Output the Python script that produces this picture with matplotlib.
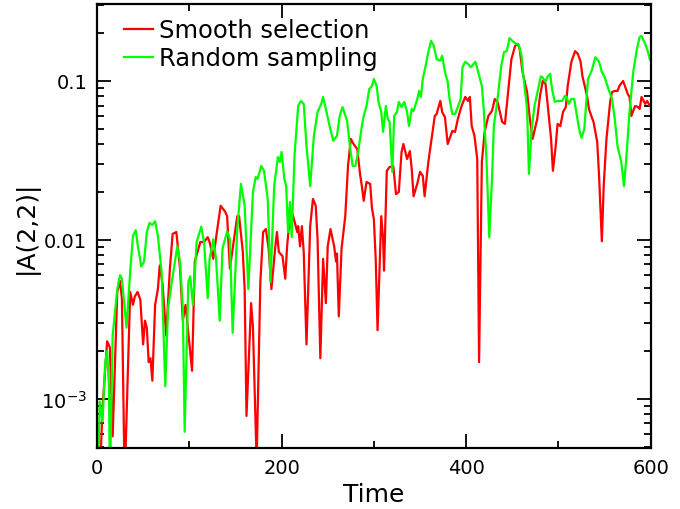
import numpy as np
import matplotlib
matplotlib.use("Agg")
import matplotlib.pyplot as plt
from matplotlib.ticker import FixedLocator, FixedFormatter, LogLocator, NullFormatter

# data (time, |A(2,2)|)
smooth_t = [3, 6, 11, 14, 17, 22, 25, 27, 30, 36, 39, 41, 44, 47, 50, 52, 54, 56, 58, 60,
            63, 66, 68, 71, 75, 79, 82, 86, 90, 93, 96, 103, 106, 112, 116, 120, 122, 126, 130, 134,
            139, 141, 144, 152, 154, 158, 160, 162, 167, 169, 173, 177, 180, 183, 186, 189, 193, 195, 197, 201,
            204, 206, 209, 212, 217, 218, 220, 222, 224, 227, 231, 234, 237, 239, 242, 245, 248, 250, 253, 257,
            259, 260, 262, 265, 269, 272, 275, 278, 282, 285, 287, 289, 292, 296, 298, 300, 302, 304, 308, 310,
            311, 314, 317, 321, 324, 327, 330, 332, 336, 339, 341, 343, 347, 350, 353, 355, 359, 363, 366, 368,
            372, 374, 377, 380, 385, 388, 391, 395, 399, 402, 404, 406, 409, 412, 414, 417, 420, 424, 428, 431,
            434, 439, 442, 445, 449, 453, 456, 458, 461, 466, 469, 472, 477, 480, 483, 486, 488, 492, 494, 497,
            499, 502, 505, 508, 510, 514, 518, 521, 524, 526, 531, 533, 536, 538, 542, 544, 547, 549, 552, 556,
            558, 561, 564, 566, 570, 572, 575, 577, 579, 583, 586, 588, 590, 594, 596, 599]
smooth_a = [0.0003, 0.00087, 0.0023, 0.0021, 0.00058, 0.0047, 0.0055, 0.0043, 0.0003, 0.0047, 0.0039, 0.0044, 0.0047, 0.0042, 0.0022, 0.0031, 0.0028, 0.0017, 0.0018, 0.0013,
            0.0039, 0.0049, 0.0069, 0.0053, 0.0025, 0.0066, 0.0109, 0.0112, 0.0066, 0.0031, 0.0039, 0.0015, 0.0073, 0.0097, 0.0097, 0.0104, 0.0097, 0.0076, 0.0113, 0.0164,
            0.0150, 0.0141, 0.0066, 0.0141, 0.0141, 0.0084, 0.0049, 0.00078, 0.0040, 0.0028, 0.0004, 0.0054, 0.0112, 0.0117, 0.0088, 0.0049, 0.0088, 0.0112, 0.0084, 0.0079,
            0.0057, 0.0091, 0.0141, 0.0145, 0.0112, 0.0122, 0.0091, 0.0122, 0.0084, 0.0022, 0.0122, 0.0181, 0.0164, 0.0101, 0.0018, 0.0076, 0.0040, 0.0091, 0.0117, 0.0091,
            0.0073, 0.0082, 0.0033, 0.0088, 0.0141, 0.0292, 0.0432, 0.0401, 0.0373, 0.0260, 0.0218, 0.0176, 0.0231, 0.0225, 0.0157, 0.0135, 0.0076, 0.0027, 0.0141, 0.0101,
            0.0064, 0.0272, 0.0287, 0.0292, 0.0194, 0.0200, 0.0357, 0.0401, 0.0323, 0.0362, 0.0280, 0.0188, 0.0225, 0.0268, 0.0253, 0.0188, 0.0309, 0.0451, 0.0602, 0.0620,
            0.0749, 0.0638, 0.0593, 0.0401, 0.0485, 0.0478, 0.0577, 0.0696, 0.0793, 0.0749, 0.0793, 0.0521, 0.0451, 0.0323, 0.0017, 0.0309, 0.0478, 0.0602, 0.0648, 0.0770,
            0.0738, 0.0552, 0.0537, 0.0805, 0.137, 0.166, 0.171, 0.159, 0.114, 0.0852, 0.0577, 0.0432, 0.0577, 0.0805, 0.100, 0.0957, 0.0738, 0.0432, 0.0272, 0.0390,
            0.0537, 0.052, 0.0638, 0.0686, 0.0930, 0.132, 0.154, 0.148, 0.132, 0.107, 0.0805, 0.0667, 0.0593, 0.0552, 0.0413, 0.0253, 0.0098, 0.0218, 0.0432, 0.0738,
            0.0852, 0.0865, 0.0865, 0.0930, 0.100, 0.0930, 0.0829, 0.0793, 0.0602, 0.0696, 0.0686, 0.0667, 0.0793, 0.0717, 0.0749, 0.0696]

random_t = [1, 3, 6, 9, 11, 13, 14, 17, 22, 25, 27, 32, 36, 39, 42, 44, 48, 51, 54, 57,
            60, 63, 66, 70, 74, 77, 81, 87, 90, 93, 95, 99, 101, 104, 108, 113, 116, 120, 122, 126,
            129, 133, 136, 141, 144, 147, 152, 156, 160, 164, 169, 172, 174, 178, 181, 185, 188, 192, 196, 198,
            200, 203, 205, 207, 209, 211, 214, 218, 221, 224, 227, 231, 235, 239, 243, 245, 248, 252, 256, 260,
            263, 266, 271, 274, 277, 280, 283, 287, 289, 292, 295, 298, 300, 303, 305, 308, 310, 313, 315, 317,
            320, 322, 325, 327, 330, 333, 336, 338, 341, 343, 347, 349, 351, 353, 356, 359, 362, 365, 368, 372,
            374, 377, 380, 382, 385, 388, 391, 394, 396, 399, 402, 405, 408, 410, 413, 417, 419, 422, 425, 428,
            430, 434, 438, 441, 444, 447, 450, 454, 457, 460, 462, 466, 468, 471, 474, 478, 481, 483, 486, 488,
            491, 493, 496, 499, 504, 507, 509, 511, 514, 517, 520, 523, 525, 528, 532, 536, 540, 544, 547, 550,
            553, 558, 561, 564, 568, 571, 574, 577, 581, 585, 588, 590, 594, 597, 599]
random_a = [0.0003, 0.00096, 0.00072, 0.0017, 0.0020, 0.0012, 0.0003, 0.0025, 0.0049, 0.0060, 0.0057, 0.0028, 0.0063, 0.0106, 0.0115, 0.0094, 0.0068, 0.0073, 0.0112, 0.0128,
            0.0124, 0.0131, 0.0106, 0.0063, 0.0012, 0.0037, 0.0054, 0.0091, 0.0073, 0.0037, 0.00062, 0.0054, 0.0059, 0.0039, 0.0097, 0.0121, 0.0097, 0.0043, 0.0076, 0.0101,
            0.0076, 0.0031, 0.0088, 0.0113, 0.0101, 0.0026, 0.0117, 0.0225, 0.0164, 0.0049, 0.0200, 0.0249, 0.0242, 0.0292, 0.0272, 0.0181, 0.0054, 0.0218, 0.0332, 0.0309,
            0.0357, 0.0242, 0.0218, 0.0112, 0.0173, 0.0104, 0.0337, 0.0696, 0.0749, 0.0717, 0.0390, 0.0218, 0.0451, 0.0638, 0.0717, 0.0793, 0.0667, 0.0521, 0.0420, 0.0451,
            0.0602, 0.0686, 0.0560, 0.0390, 0.0292, 0.0292, 0.0357, 0.0521, 0.0602, 0.0696, 0.0890, 0.0930, 0.103, 0.0930, 0.0738, 0.0638, 0.0478, 0.0696, 0.0577, 0.0552,
            0.0268, 0.0602, 0.0638, 0.0738, 0.0686, 0.0738, 0.0638, 0.0521, 0.0667, 0.0648, 0.0770, 0.0865, 0.0793, 0.103, 0.124, 0.152, 0.179, 0.166, 0.137, 0.134,
            0.144, 0.114, 0.0986, 0.0770, 0.0620, 0.0620, 0.0686, 0.0770, 0.122, 0.132, 0.128, 0.122, 0.128, 0.132, 0.114, 0.0930, 0.0667, 0.0323, 0.0104, 0.0242,
            0.0521, 0.0770, 0.124, 0.152, 0.154, 0.186, 0.179, 0.171, 0.169, 0.144, 0.107, 0.0667, 0.0260, 0.0499, 0.0696, 0.0890, 0.107, 0.105, 0.0986, 0.106,
            0.111, 0.0890, 0.0738, 0.0749, 0.0749, 0.0805, 0.0793, 0.0717, 0.0770, 0.0770, 0.0602, 0.0478, 0.0438, 0.0499, 0.103, 0.116, 0.141, 0.132, 0.114, 0.106,
            0.0930, 0.0770, 0.0577, 0.0390, 0.0309, 0.0218, 0.0357, 0.0638, 0.114, 0.159, 0.189, 0.192, 0.171, 0.152, 0.137]

labels = ["Smooth selection", "Random sampling"]
x_ticks = [0, 200, 400, 600]
y_ticks = [1e-3, 1e-2, 1e-1]
y_ticklabels = [r"$10^{-3}$", "0.01", "0.1"]

fig = plt.figure(figsize=(6.8, 5.1), dpi=100)
ax = fig.add_axes([0.1426, 0.1196, 0.8144, 0.8706])

ax.plot(smooth_t, smooth_a, color="#ff0000", lw=1.6, label=labels[0])
ax.plot(random_t, random_a, color="#00ff00", lw=1.6, label=labels[1])

ax.set_yscale("log")
ax.set_xlim(0, 600)
ax.set_ylim(4.9e-4, 0.305)

ax.set_xticks(x_ticks)
ax.set_xticks([100, 300, 500], minor=True)
ax.yaxis.set_major_locator(FixedLocator(y_ticks))
ax.yaxis.set_major_formatter(FixedFormatter(y_ticklabels))
ax.yaxis.set_minor_locator(LogLocator(base=10, subs=np.arange(2, 10)))
ax.yaxis.set_minor_formatter(NullFormatter())

ax.tick_params(which="both", direction="in", top=True, right=True, width=1.3, labelsize=14)
ax.tick_params(which="major", length=10, pad=7)
ax.tick_params(which="minor", length=5)
for s in ax.spines.values():
    s.set_linewidth(1.6)

ax.set_xlabel("Time", fontsize=18, labelpad=4)
ax.set_ylabel("|A(2,2)|", fontsize=18, labelpad=2)

ax.legend(loc="upper left", frameon=False, fontsize=17.5, handlelength=1.2,
          handletextpad=0.25, labelspacing=0.17, borderpad=0, borderaxespad=0,
          bbox_to_anchor=(0.049, 0.968))

fig.savefig("out.png", dpi=100)
